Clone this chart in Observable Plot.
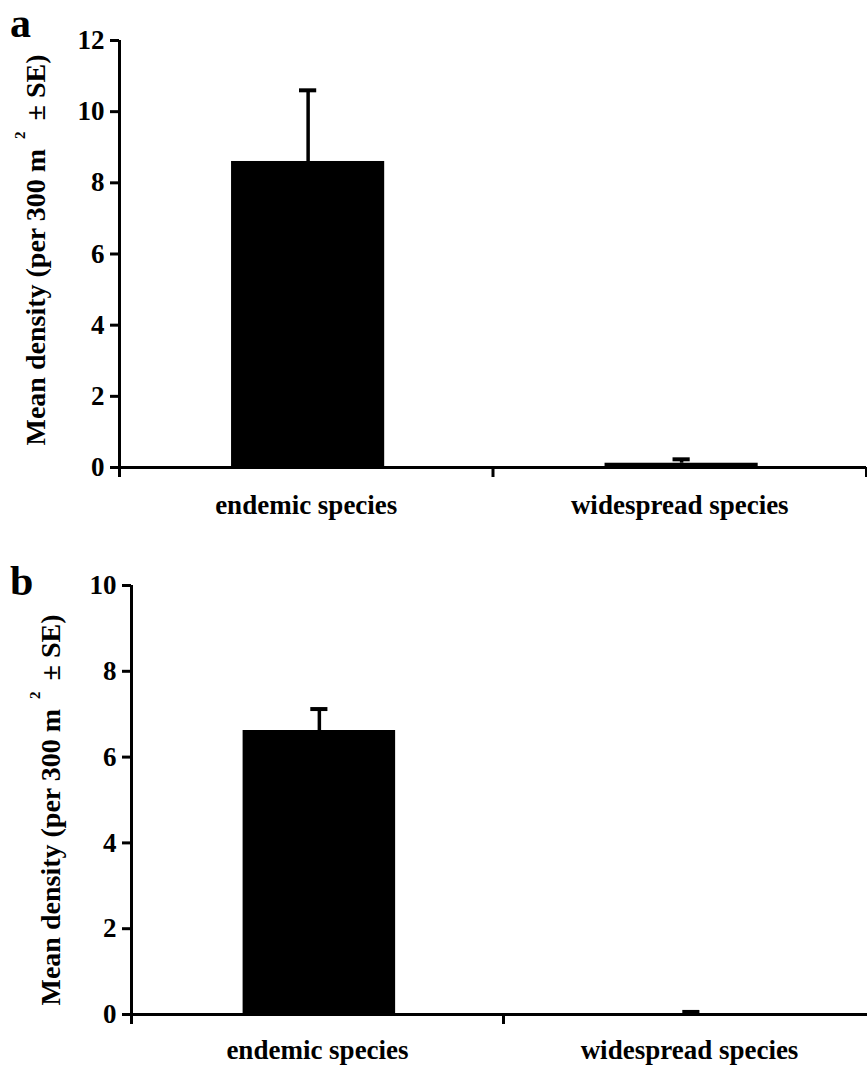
<!DOCTYPE html>
<html><head><meta charset="utf-8">
<script src="https://cdn.jsdelivr.net/npm/d3@7"></script>
<script src="https://cdn.jsdelivr.net/npm/@observablehq/plot@0.6"></script>
<style>
body{margin:0;background:#fff;overflow:hidden;}
#wrap{position:relative;width:867px;height:1067px;overflow:hidden;}
.panel{position:absolute;left:0;}
.letter{position:absolute;font-family:"Liberation Serif","Times New Roman",serif;font-weight:bold;font-size:42px;line-height:1.12;}
svg{display:block}
</style></head><body>
<div id="wrap">
<div class="panel" id="pa" style="top:0"></div>
<div class="panel" id="pb" style="top:533px"></div>
<div class="letter" style="left:10px;top:0px">a</div>
<div class="letter" style="left:10px;top:558px">b</div>
</div>
<script>
const categories = ["endemic species", "widespread species"];
const meanA = [8.6, 0.12];
const seA = [2.0, 0.11];
const meanB = [6.62, 0.02];
const seB = [0.5, 0.04];
const yTicksA = [0, 2, 4, 6, 8, 10, 12];
const yTicksB = [0, 2, 4, 6, 8, 10];
const yTitle = "Mean density (per 300 m\u00B2 \u00B1 SE)";

function superscriptTitle(svg) {
  for (const t of svg.querySelectorAll("text")) {
    if (t.textContent === yTitle) {
      const [pre, post] = yTitle.split("\u00B2");
      t.textContent = "";
      const ns = "http://www.w3.org/2000/svg";
      const a = document.createElementNS(ns, "tspan"); a.textContent = pre;
      const s = document.createElementNS(ns, "tspan"); s.textContent = "2";
      s.setAttribute("font-size", "15"); s.setAttribute("dx", "10"); s.setAttribute("dy", "-20");
      const b = document.createElementNS(ns, "tspan"); b.textContent = post;
      b.setAttribute("dx", "4"); b.setAttribute("dy", "20");
      t.append(a, s, b);
    }
  }
  return svg;
}

function panel({means, ses, yMax, yTicks, height, marginTop, marginBottom, marginLeft, marginRight, labelPad, titleDx, titleDy}) {
  const data = categories.map((c, i) => ({i, c, mean: means[i], top: means[i] + ses[i]}));
  return superscriptTitle(Plot.plot({
    width: 867, height, marginTop, marginBottom, marginLeft, marginRight,
    style: {fontFamily: "'Liberation Serif', 'Times New Roman', serif", fontSize: "27px", fontWeight: "bold", color: "#000", background: "#fff", overflow: "visible"},
    x: {type: "linear", domain: [0, 2], axis: null},
    y: {domain: [0, yMax], axis: null},
    marks: [
      Plot.rectY(data, {x1: d => d.i + 0.3, x2: d => d.i + 0.71, y1: 0, y2: "mean", fill: "#000"}),
      Plot.ruleX(data, {x: d => d.i + 0.505, y1: "mean", y2: "top", stroke: "#000", strokeWidth: 3.5}),
      Plot.ruleY(data, {y: "top", x1: d => d.i + 0.482, x2: d => d.i + 0.528, stroke: "#000", strokeWidth: 4}),
      Plot.ruleY([0], {stroke: "#000", strokeWidth: 3}),
      Plot.ruleX([0], {y1: 0, y2: yMax, stroke: "#000", strokeWidth: 3}),
      Plot.axisY({ticks: yTicks, tickSize: 9, tickPadding: 6, strokeWidth: 3, label: null, tickFormat: d => String(d)}),
      Plot.axisX({ticks: [0, 1, 2], tickSize: 10, strokeWidth: 3, tickFormat: () => "", label: null}),
      Plot.axisX({ticks: [0.5, 1.5], tickSize: 0, tickPadding: labelPad, tickFormat: d => categories[Math.floor(d)], label: null}),
      Plot.text([yTitle], {text: d => d, frameAnchor: "left", textAnchor: "middle", lineAnchor: "middle", rotate: -90, dx: titleDx, dy: titleDy, fontSize: 28, fontWeight: "bold"})
    ]
  }));
}

document.getElementById("pa").append(panel({
  means: meanA, ses: seA, yMax: 12, yTicks: yTicksA,
  height: 533, marginTop: 40, marginBottom: 66, marginLeft: 119, marginRight: 1,
  labelPad: 27, titleDx: -83, titleDy: -4
}));
document.getElementById("pb").append(panel({
  means: meanB, ses: seB, yMax: 10, yTicks: yTicksB,
  height: 534, marginTop: 52, marginBottom: 53, marginLeft: 131, marginRight: -8,
  labelPad: 25, titleDx: -80, titleDy: 10
}));
</script>
</body></html>
